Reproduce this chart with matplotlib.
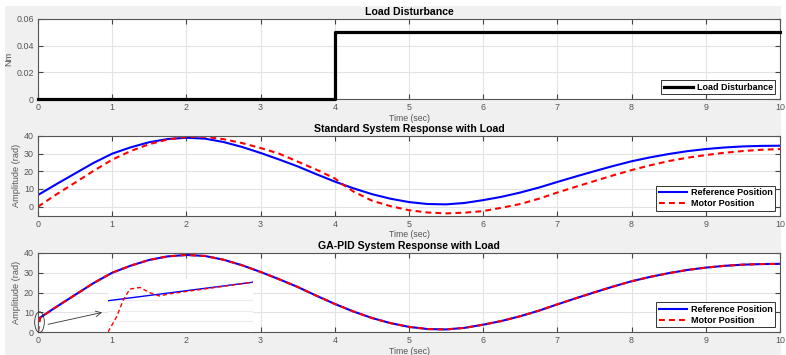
import matplotlib.pyplot as plt
from matplotlib.patches import Ellipse, Rectangle

plt.rcParams['font.family'] = ['Liberation Sans', 'DejaVu Sans']

# ---- data ----
load_t = [0, 4, 4, 10]
load_nm = [0, 0, 0.05, 0.05]

t = [0, 0.25, 0.5, 0.75, 1.0, 1.25, 1.5, 1.75, 2.0, 2.25, 2.5, 2.75, 3.0, 3.25, 3.5,
     3.75, 4.0, 4.25, 4.5, 4.75, 5.0, 5.25, 5.5, 5.75, 6.0, 6.25, 6.5, 6.75, 7.0,
     7.25, 7.5, 7.75, 8.0, 8.25, 8.5, 8.75, 9.0, 9.25, 9.5, 9.75, 10.0]
ref_pos = [6.6, 12.8, 18.8, 24.8, 30.0, 33.6, 36.5, 38.3, 39.0, 38.5, 36.6, 33.8, 30.4,
           26.7, 22.8, 18.4, 14.2, 10.4, 7.1, 4.5, 2.6, 1.5, 1.3, 2.1, 3.7, 5.6, 8.0,
           10.8, 14.0, 17.1, 20.1, 23.0, 25.7, 27.9, 29.8, 31.4, 32.6, 33.5, 34.1,
           34.4, 34.5]

std_t = [0, 0.25, 0.5, 0.75, 1.0, 1.25, 1.5, 1.75, 2.0, 2.25, 2.5, 2.75, 3.0, 3.25, 3.5,
         3.75, 4.0, 4.1, 4.25, 4.5, 4.75, 5.0, 5.25, 5.5, 5.75, 6.0, 6.25, 6.5, 6.75,
         7.0, 7.25, 7.5, 7.75, 8.0, 8.25, 8.5, 8.75, 9.0, 9.25, 9.5, 9.75, 10.0]
std_motor = [0.0, 7.0, 13.6, 20.3, 26.6, 31.5, 35.4, 38.0, 39.5, 39.6, 38.2, 36.0, 33.2,
             30.0, 25.5, 21.0, 16.0, 12.8, 8.6, 3.4, 0.3, -2.0, -3.3, -3.8, -3.4, -2.5,
             -0.6, 1.5, 4.5, 8.0, 11.3, 14.5, 17.7, 20.7, 23.4, 25.8, 27.7, 29.2, 30.5,
             31.5, 32.2, 32.6]

ga_t = [0, 0.03, 0.25, 0.5, 0.75, 1.0, 1.25, 1.5, 1.75, 2.0, 2.25, 2.5, 2.75, 3.0, 3.25,
        3.5, 3.75, 4.0, 4.25, 4.5, 4.75, 5.0, 5.25, 5.5, 5.75, 6.0, 6.25, 6.5, 6.75, 7.0,
        7.25, 7.5, 7.75, 8.0, 8.25, 8.5, 8.75, 9.0, 9.25, 9.5, 9.75, 10.0]
ga_motor = [0.0, 7.2, 12.8, 18.8, 24.8, 30.0, 33.6, 36.5, 38.3, 39.0, 38.5, 36.6, 33.8,
            30.4, 26.7, 22.8, 18.4, 14.2, 10.4, 7.1, 4.5, 2.6, 1.5, 1.3, 2.1, 3.7, 5.6,
            8.0, 10.8, 14.0, 17.1, 20.1, 23.0, 25.7, 27.9, 29.8, 31.4, 32.6, 33.5, 34.1,
            34.4, 34.5]

# zoomed inset near t = 0
ins_t = [0.0, 0.2]
ins_ref = [5.9, 9.4]
ins_mt = [0.0, 0.012, 0.021, 0.030, 0.044, 0.058, 0.071, 0.085, 0.2]
ins_motor = [0.0, 2.9, 6.0, 8.1, 8.4, 7.4, 6.8, 7.2, 9.4]

tick_col = '#555555'
fig = plt.figure(figsize=(7.86, 3.55), dpi=100, facecolor='white')
fig.patches.append(Rectangle((5 / 786, 0), 776 / 786, 1 - 6 / 355, transform=fig.transFigure,
                             facecolor='#f0f0f0', edgecolor='none', zorder=-10))


def style(ax, title, ylabel):
    ax.set_facecolor('white')
    ax.set_xlim(0, 10)
    ax.set_xticks(range(11))
    ax.grid(True, color='#e3e3e3', lw=0.8)
    ax.set_axisbelow(True)
    ax.tick_params(direction='in', length=3.5, width=0.8, colors='#444444',
                   labelcolor=tick_col, labelsize=6.4, top=True, right=True, pad=3)
    for s in ax.spines.values():
        s.set_color('#555555')
        s.set_linewidth(0.8)
    ax.set_title(title, fontsize=7.6, fontweight='bold', pad=3)
    ax.set_xlabel('Time (sec)', fontsize=6.3, color=tick_col, labelpad=1)
    ax.set_ylabel(ylabel, fontsize=6.6, color=tick_col, labelpad=2)


def legend(ax):
    lg = ax.legend(loc='lower right', prop={'weight': 'bold', 'size': 6.5},
                   fancybox=False, framealpha=1, edgecolor='#333333', handlelength=3.2,
                   borderpad=0.3, labelspacing=0.2, handletextpad=0.4, borderaxespad=0.5)
    lg.get_frame().set_linewidth(0.7)


# top: load disturbance
ax1 = fig.add_axes([38 / 786, 1 - 99 / 355, 742 / 786, 80 / 355])
ax1.plot(load_t, load_nm, color='black', lw=2.3, label='Load Disturbance', clip_on=False,
         zorder=3)
ax1.set_ylim(0, 0.06)
ax1.set_yticks([0, 0.02, 0.04, 0.06])
ax1.set_yticklabels(['0', '0.02', '0.04', '0.06'])
style(ax1, 'Load Disturbance', 'Nm')
legend(ax1)

# middle: standard response
ax2 = fig.add_axes([38 / 786, 1 - 215.5 / 355, 742 / 786, 79.5 / 355])
ax2.plot(t, ref_pos, color='#0000ff', lw=1.5, label='Reference Position')
ax2.plot(std_t, std_motor, color='#ff0000', lw=1.5, ls=(0, (2.8, 2)), label='Motor Position')
ax2.set_ylim(-5, 40)
ax2.set_yticks([0, 10, 20, 30, 40])
style(ax2, 'Standard System Response with Load', 'Amplitude (rad)')
legend(ax2)

# bottom: GA-PID response
ax3 = fig.add_axes([38 / 786, 1 - 332 / 355, 742 / 786, 79 / 355])
ax3.plot(t, ref_pos, color='#0000ff', lw=1.5, label='Reference Position')
ax3.plot(ga_t, ga_motor, color='#ff0000', lw=1.5, ls=(0, (2.8, 2)), label='Motor Position')
ax3.set_ylim(0, 40)
ax3.set_yticks([0, 10, 20, 30, 40])
style(ax3, 'GA-PID System Response with Load', 'Amplitude (rad)')
legend(ax3)

ax3.add_patch(Ellipse((0.02, 5), 0.13, 10.5, fill=False, edgecolor='#333333', lw=0.6,
                      clip_on=False, zorder=5))
ax3.annotate('', xy=(0.9, 10.2), xytext=(0.1, 3.6),
             arrowprops=dict(arrowstyle='->', color='#333333', lw=0.6))

axi = fig.add_axes([108 / 786, 1 - 332 / 355, 145 / 786, 53 / 355])
axi.set_facecolor('white')
axi.plot(ins_t, ins_ref, color='#0000ff', lw=1.0)
axi.plot(ins_mt, ins_motor, color='#ff0000', lw=1.0, ls=(0, (3, 2)))
axi.set_xlim(0, 0.2)
axi.set_ylim(0, 10)
axi.set_yticks([2, 4, 6])
axi.set_xticks([])
axi.grid(True, axis='y', color='#ececec', lw=0.8)
axi.set_axisbelow(True)
axi.tick_params(left=False, labelleft=False)
for s in axi.spines.values():
    s.set_visible(False)

fig.savefig('out.png', dpi=100, facecolor=fig.get_facecolor())
